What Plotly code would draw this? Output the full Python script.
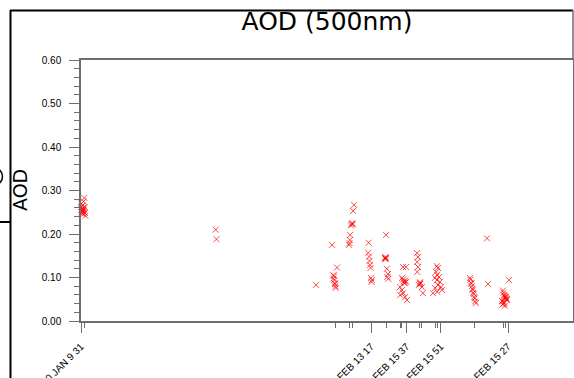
import plotly.graph_objects as go

# ---------------- data ----------------
jan20_time = ["2013-01-20 09:31", "2013-01-20 09:50", "2013-01-20 10:10", "2013-01-20 10:30",
              "2013-01-20 10:50", "2013-01-20 11:10", "2013-01-20 11:30", "2013-01-20 11:50",
              "2013-01-20 12:10", "2013-01-20 12:30", "2013-01-20 12:50", "2013-01-20 13:10",
              "2013-01-20 13:30", "2013-01-20 13:50", "2013-01-20 14:20", "2013-01-20 14:50",
              "2013-01-20 15:20", "2013-01-20 15:50"]
jan20_aod = [0.262, 0.255, 0.270, 0.250, 0.258, 0.248, 0.265, 0.255, 0.252, 0.245, 0.260,
             0.275, 0.256, 0.250, 0.283, 0.262, 0.248, 0.242]

jan28_time = ["2013-01-28 08:40", "2013-01-28 09:40"]
jan28_aod = [0.210, 0.188]

feb03_time = ["2013-02-03 07:00"]
feb03_aod = [0.083]

feb04_time = ["2013-02-04 05:45", "2013-02-04 07:30", "2013-02-04 08:00", "2013-02-04 08:30",
              "2013-02-04 09:00", "2013-02-04 09:30", "2013-02-04 10:00", "2013-02-04 10:30",
              "2013-02-04 11:00", "2013-02-04 12:45"]
feb04_aod = [0.175, 0.105, 0.098, 0.104, 0.094, 0.087, 0.085, 0.080, 0.076, 0.123]

feb05_time = ["2013-02-05 05:50", "2013-02-05 06:30", "2013-02-05 07:00", "2013-02-05 07:30",
              "2013-02-05 08:30", "2013-02-05 09:30", "2013-02-05 10:30", "2013-02-05 11:10",
              "2013-02-05 11:40", "2013-02-05 12:55"]
feb05_aod = [0.175, 0.179, 0.186, 0.198, 0.220, 0.223, 0.225, 0.222, 0.253, 0.267]

feb06_time = ["2013-02-06 09:00", "2013-02-06 09:40", "2013-02-06 10:20", "2013-02-06 11:00",
              "2013-02-06 11:40", "2013-02-06 12:20", "2013-02-06 13:00", "2013-02-06 13:40",
              "2013-02-06 14:20"]
feb06_aod = [0.157, 0.180, 0.148, 0.138, 0.129, 0.122, 0.099, 0.090, 0.094]

feb07_time = ["2013-02-07 08:50", "2013-02-07 09:20", "2013-02-07 09:30", "2013-02-07 09:40",
              "2013-02-07 09:50", "2013-02-07 10:20", "2013-02-07 11:30", "2013-02-07 12:10",
              "2013-02-07 13:10", "2013-02-07 13:40"]
feb07_aod = [0.145, 0.145, 0.142, 0.147, 0.144, 0.198, 0.120, 0.101, 0.108, 0.097]

feb08_time = ["2013-02-08 06:10", "2013-02-08 06:30", "2013-02-08 09:00", "2013-02-08 09:10",
              "2013-02-08 10:20", "2013-02-08 10:30", "2013-02-08 11:40", "2013-02-08 11:50",
              "2013-02-08 10:40", "2013-02-08 13:10", "2013-02-08 13:20", "2013-02-08 13:30",
              "2013-02-08 14:40", "2013-02-08 14:50", "2013-02-08 16:00"]
feb08_aod = [0.078, 0.060, 0.071, 0.099, 0.095, 0.124, 0.091, 0.088, 0.064, 0.087, 0.093,
             0.055, 0.124, 0.090, 0.048]

feb09_time = ["2013-02-09 06:20", "2013-02-09 07:40", "2013-02-09 06:30", "2013-02-09 07:50",
              "2013-02-09 06:40", "2013-02-09 10:30", "2013-02-09 10:40", "2013-02-09 10:50",
              "2013-02-09 09:10", "2013-02-09 13:20", "2013-02-09 14:50"]
feb09_aod = [0.156, 0.147, 0.136, 0.124, 0.113, 0.087, 0.089, 0.085, 0.083, 0.078, 0.064]

feb10_time = ["2013-02-10 10:40", "2013-02-10 12:00", "2013-02-10 09:15", "2013-02-10 10:50",
              "2013-02-10 07:50", "2013-02-10 13:30", "2013-02-10 10:30", "2013-02-10 14:55",
              "2013-02-10 12:10", "2013-02-10 16:20", "2013-02-10 08:00", "2013-02-10 05:00",
              "2013-02-10 11:00", "2013-02-10 17:45"]
feb10_aod = [0.126, 0.122, 0.113, 0.106, 0.099, 0.101, 0.094, 0.090, 0.083, 0.078, 0.076,
             0.064, 0.067, 0.071]

feb12_time = ["2013-02-12 09:30", "2013-02-12 10:10", "2013-02-12 10:50", "2013-02-12 11:30",
              "2013-02-12 12:10", "2013-02-12 12:50", "2013-02-12 13:30", "2013-02-12 14:10",
              "2013-02-12 14:50", "2013-02-12 15:30", "2013-02-12 16:10", "2013-02-12 16:50",
              "2013-02-12 17:40"]
feb12_aod = [0.099, 0.095, 0.088, 0.086, 0.080, 0.074, 0.072, 0.065, 0.062, 0.055, 0.052,
             0.045, 0.041]

feb13_time = ["2013-02-13 09:40", "2013-02-13 11:00"]
feb13_aod = [0.190, 0.085]

feb14_time = ["2013-02-14 08:20", "2013-02-14 09:00", "2013-02-14 09:45", "2013-02-14 10:30",
              "2013-02-14 11:10", "2013-02-14 11:40", "2013-02-14 12:10", "2013-02-14 12:35",
              "2013-02-14 13:00", "2013-02-14 13:30", "2013-02-14 14:00", "2013-02-14 07:00",
              "2013-02-14 08:00", "2013-02-14 10:00", "2013-02-14 09:30", "2013-02-14 07:40",
              "2013-02-14 11:00", "2013-02-14 16:50"]
feb14_aod = [0.070, 0.065, 0.060, 0.058, 0.056, 0.055, 0.054, 0.052, 0.050, 0.050, 0.048,
             0.046, 0.045, 0.042, 0.040, 0.038, 0.035, 0.094]

major_tick_times = ["2013-01-20 09:31", "2013-02-06 13:17", "2013-02-08 15:37",
                    "2013-02-10 15:51", "2013-02-14 15:27"]
major_tick_labels = ["20 JAN 9 31", "06 FEB 13 17", "08 FEB 15 37", "10 FEB 15 51",
                     "14 FEB 15 27"]
minor_tick_times = ["2013-01-20 14:00", "2013-02-04 10:00", "2013-02-05 06:15",
                    "2013-02-05 10:30", "2013-02-07 10:19", "2013-02-08 06:11",
                    "2013-02-08 08:35", "2013-02-09 09:09", "2013-02-09 13:24",
                    "2013-02-10 09:15", "2013-02-10 11:30", "2013-02-12 15:12",
                    "2013-02-14 08:40", "2013-02-14 12:00"]

y_ticks = [0.0, 0.1, 0.2, 0.3, 0.4, 0.5, 0.6]
y_tick_labels = ["0.00", "0.10", "0.20", "0.30", "0.40", "0.50", "0.60"]

x_range = ["2013-01-20 09:31", "2013-02-18 11:41"]

# ---------------- figure ----------------
W, H = 574, 378
ML, MR, MT, MB = 81, 1, 60, 57
PW, PH = W - ML - MR, H - MT - MB


def px(x):
    return (x - ML) / PW


def py(y):
    return (H - MB - y) / PH


all_time = (jan20_time + jan28_time + feb03_time + feb04_time + feb05_time + feb06_time +
            feb07_time + feb08_time + feb09_time + feb10_time + feb12_time + feb13_time +
            feb14_time)
all_aod = (jan20_aod + jan28_aod + feb03_aod + feb04_aod + feb05_aod + feb06_aod +
           feb07_aod + feb08_aod + feb09_aod + feb10_aod + feb12_aod + feb13_aod +
           feb14_aod)

fig = go.Figure()
fig.add_trace(go.Scatter(
    x=all_time, y=all_aod, mode="markers", cliponaxis=False,
    marker=dict(symbol="x-thin-open", size=6, color="rgba(255,0,0,0.7)",
                line=dict(color="rgba(255,0,0,0.7)", width=1)),
    showlegend=False, hoverinfo="x+y"))

axis_col = "#6e6e6e"
fig.update_layout(
    width=W, height=H,
    margin=dict(l=ML, r=MR, t=MT, b=MB, pad=0),
    paper_bgcolor="white", plot_bgcolor="white",
    font=dict(family="Liberation Sans, Arial, sans-serif", color="black", size=10),
    title=dict(text="AOD (500nm)", x=px(327), xref="paper", xanchor="center",
               y=1 - 21 / H, yref="container", yanchor="middle",
               font=dict(family="DejaVu Sans", size=25, color="black")),
    xaxis=dict(type="date", range=x_range, showgrid=False, zeroline=False,
               showline=True, linecolor=axis_col, linewidth=1.5, mirror=True,
               tickmode="array", tickvals=major_tick_times, ticktext=major_tick_labels,
               ticks="outside", ticklen=10, tickwidth=1, tickcolor=axis_col,
               tickangle=-45, tickfont=dict(size=10, color="black"), automargin=False,
               ticklabelstandoff=4,
               minor=dict(tickmode="array", tickvals=minor_tick_times, ticks="outside",
                          ticklen=5, tickwidth=1, tickcolor=axis_col)),
    yaxis=dict(range=[0, 0.6], showgrid=False, zeroline=False,
               showline=True, linecolor=axis_col, linewidth=1.5, mirror=True,
               tickmode="array", tickvals=y_ticks, ticktext=y_tick_labels,
               ticks="outside", ticklen=10, tickwidth=1, tickcolor=axis_col,
               tickfont=dict(size=10, color="black"), automargin=False, ticklabelstandoff=6,
               minor=dict(dtick=0.02, ticks="outside", ticklen=5, tickwidth=1,
                          tickcolor=axis_col)),
    annotations=[
        dict(text="AOD", textangle=-90, xref="paper", yref="paper",
             x=px(20), y=py(190), xanchor="center", yanchor="middle", showarrow=False,
             font=dict(family="DejaVu Sans", size=19, color="black")),
    ],
    shapes=[
        # outer frame (top, left, right)
        dict(type="line", xref="paper", yref="paper", x0=px(10), x1=px(573), y0=py(10.5), y1=py(10.5),
             line=dict(color="black", width=2)),
        dict(type="line", xref="paper", yref="paper", x0=px(10.5), x1=px(10.5), y0=py(10), y1=py(400),
             line=dict(color="black", width=2)),
        dict(type="line", xref="paper", yref="paper", x0=px(573), x1=px(573), y0=py(10), y1=py(60),
             line=dict(color=axis_col, width=1.5)),
        # stray bits of a neighbouring panel on the left edge
        dict(type="line", xref="paper", yref="paper", x0=px(-2), x1=px(10), y0=py(222), y1=py(222),
             line=dict(color="black", width=2)),
        dict(type="circle", xref="paper", yref="paper", x0=px(-10), x1=px(2.5), y0=py(169), y1=py(184),
             line=dict(color="black", width=1.5)),
    ],
)

fig.write_html("out.html", config={"displayModeBar": False},
               post_script="document.body.style.margin='0';document.body.style.overflow='hidden';")
